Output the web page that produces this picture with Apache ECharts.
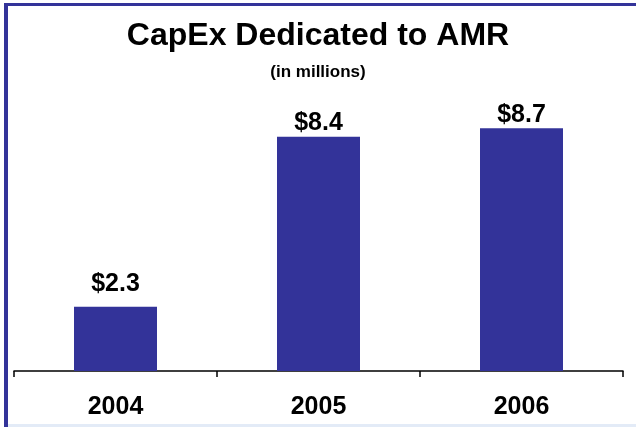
<!DOCTYPE html>
<html>
<head>
<meta charset="utf-8">
<script src="https://cdn.jsdelivr.net/npm/echarts@6/dist/echarts.min.js"></script>
<style>
    html, body { margin: 0; padding: 0; background: #fff; }
    #chart { width: 636px; height: 427px; }
</style>
</head>
<body>
<div id="chart"></div>
<script>
    // data
    const years = ['2004', '2005', '2006'];
    const capex = [2.3, 8.4, 8.7];

    const chart = echarts.init(document.getElementById('chart'));

    // the 2004 label sits a bit higher above its bar in the original
    const barData = capex.map((v, i) => i === 0 ? { value: v, label: { distance: 10 } } : v);

    const option = {
        backgroundColor: '#fff',
        textStyle: { fontFamily: 'Liberation Sans, Arial, sans-serif' },
        title: {
            text: 'CapEx Dedicated to AMR',
            subtext: '(in millions)',
            left: 'center',
            top: 15,
            itemGap: 12,
            textStyle: { fontSize: 32, fontWeight: 'bold', color: '#000', fontFamily: 'Liberation Sans' },
            subtextStyle: { fontSize: 17, fontWeight: 'bold', color: '#000', fontFamily: 'Liberation Sans' }
        },
        grid: { left: 14, right: 13, top: 92, bottom: 56 },
        xAxis: {
            type: 'category',
            data: years,
            axisLine: { lineStyle: { color: '#000', width: 1.5 } },
            axisTick: { show: true, length: 6, lineStyle: { color: '#000', width: 1.5 } },
            axisLabel: { fontSize: 25, fontWeight: 'bold', color: '#000', margin: 24, fontFamily: 'Liberation Sans' }
        },
        yAxis: {
            type: 'value',
            min: 0,
            max: 10,
            show: false,
            splitLine: { show: false }
        },
        series: [{
            type: 'bar',
            data: barData,
            barWidth: 83,
            itemStyle: { color: '#333399' },
            label: {
                show: true,
                position: 'top',
                distance: 1,
                formatter: p => '$' + p.value.toFixed(1),
                fontSize: 25,
                fontWeight: 'bold',
                color: '#000',
                fontFamily: 'Liberation Sans'
            }
        }],
        graphic: [
            // frame: navy top and left edges, pale line at the bottom
            { type: 'rect', shape: { x: 4, y: 3, width: 632, height: 3 }, style: { fill: '#333399' } },
            { type: 'rect', shape: { x: 4, y: 3, width: 4, height: 424 }, style: { fill: '#333399' } },
            { type: 'rect', shape: { x: 8, y: 424, width: 628, height: 3 }, style: { fill: '#e3ebf7' } }
        ]
    };

    chart.setOption(option);
</script>
</body>
</html>
